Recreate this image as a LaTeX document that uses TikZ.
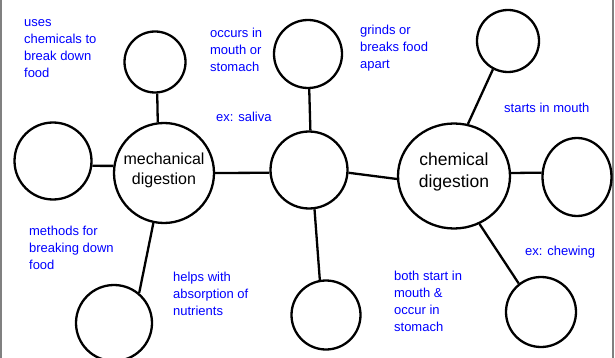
\documentclass[tikz,border=0pt]{standalone}
\usepackage{fontspec}
\setmainfont{Liberation Sans}
\usetikzlibrary{shapes.geometric}

\begin{document}
\begin{tikzpicture}[x=1pt,y=-1pt,line width=2.3pt,
  main node/.style={circle,draw,inner sep=0pt,align=center,font=\fontsize{16}{20}\selectfont},
  big node/.style={ellipse,draw,inner sep=0pt,align=center,font=\fontsize{17.5}{22}\selectfont},
  note node/.style={anchor=north west,inner sep=0pt,text=blue,align=left,
    font=\fontsize{13}{17}\selectfont,execute at begin node=\strut}]
  \useasboundingbox (0,0) rectangle (615,358);
  \draw[gray,line width=1.5pt] (1,0) -- (1,358) (613,0) -- (613,358);

  % circles
  \node[main node,minimum size=100pt] (mech) at (164,173) {mechanical\\digestion\rule[-8pt]{0pt}{1pt}};
  \node[main node,minimum size=61pt] (m1) at (155,62) {};
  \node[main node,minimum size=77pt] (m2) at (53,161) {};
  \node[main node,minimum size=76pt] (m3) at (114,323) {};
  \node[main node,minimum size=77pt] (mid) at (309,170) {};
  \node[main node,minimum size=68pt] (c1) at (308,54) {};
  \node[main node,minimum size=69pt] (c2) at (326,315) {};
  \node[big node,minimum width=112pt,minimum height=105pt] (chem) at (454,176) {chemical\\digestion\rule[-12pt]{0pt}{1pt}};
  \node[main node,minimum size=62pt] (r1) at (508,41) {};
  \node[big node,minimum width=69pt,minimum height=78pt] (r2) at (577,177) {};
  \node[main node,minimum size=70pt] (r3) at (541,312) {};

  \path[draw]
    (m1.-86) edge (mech.97)
    (m2.-7) edge (mech.172)
    (mech.258) edge (m3.50)
    (mech.0) edge (mid.-176)
    (c1.-88) edge (mid.88)
    (mid.-82) edge (c2.100)
    (mid.-4) edge (chem.-177)
    (chem.75) edge (r1.-118)
    (chem.3) edge (r2.173)
    (chem.-62) edge (r3.128);

  % labels
  \node[note node] (n1) at (23,18) {uses\\chemicals to\\break down\\food};
  \node[note node] (n2) at (209,27) {occurs in\\mouth or\\stomach};
  \node[note node] (n3) at (215,108) {ex: saliva};
  \node[note node] (n4) at (359,24) {grinds or\\breaks food\\apart};
  \node[note node] (n5) at (503,99) {starts in mouth};
  \node[note node] (n6) at (28,225) {methods for\\breaking down\\food};
  \node[note node] (n7) at (172,271) {helps with\\absorption of\\nutrients};
  \node[note node] (n8) at (393,270) {both start in\\mouth \&\\occur in\\stomach};
  \node[note node] (n9) at (524,242) {ex: chewing};
\end{tikzpicture}
\end{document}
